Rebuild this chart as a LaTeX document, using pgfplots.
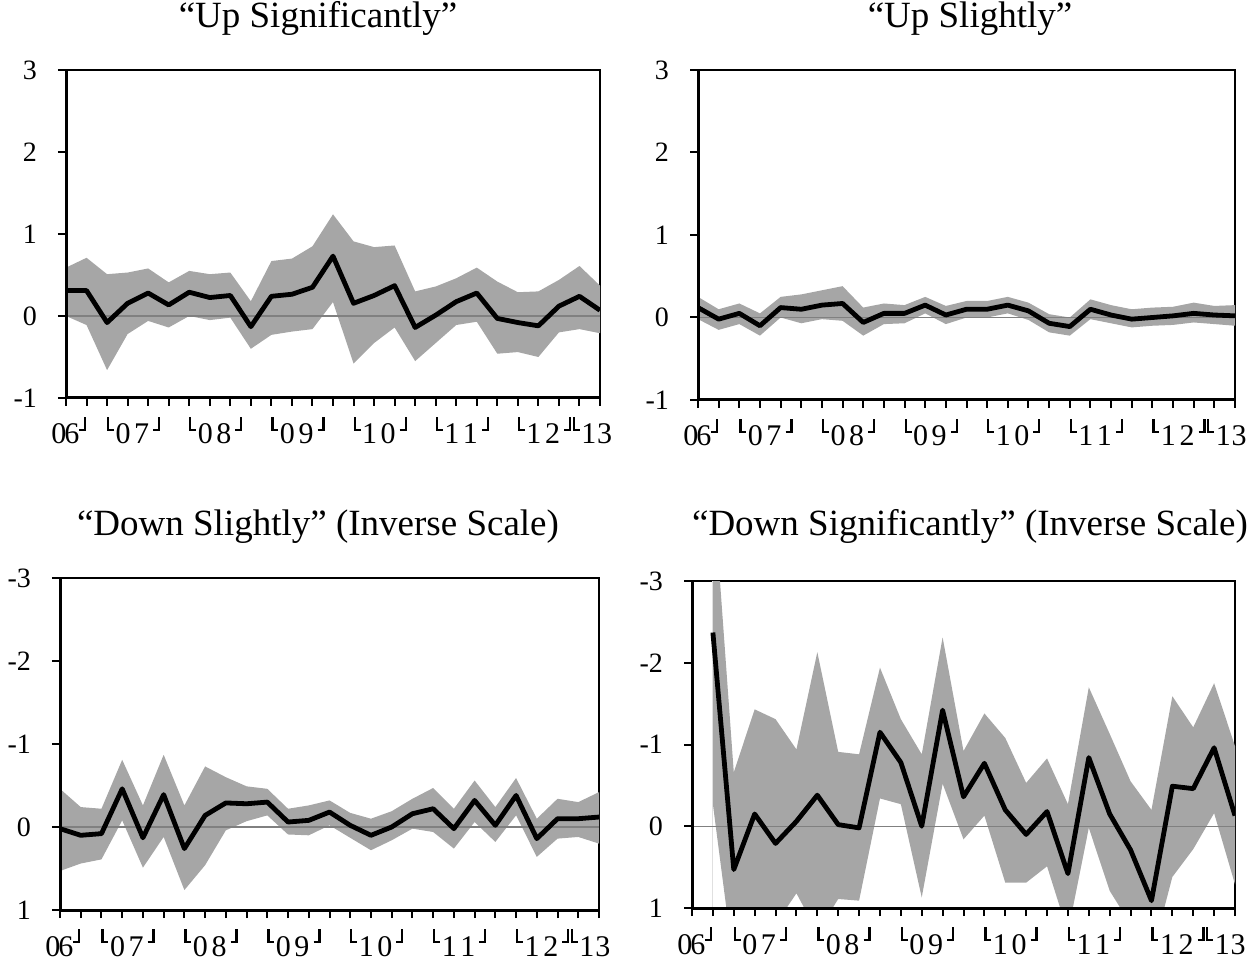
\documentclass[border=0pt]{standalone}
\usepackage{pgfplots}
\pgfplotsset{compat=1.18}
\usepgfplotslibrary{fillbetween}
\usepackage{pgfplotstable}
\usepackage{fontspec}
\setmainfont{Liberation Serif}

\definecolor{band}{RGB}{166,166,166}
\definecolor{zline}{RGB}{128,128,128}

% corner marks and year groups for the quarter axis
\newcommand{\Lb}{\raisebox{6.5pt}{\rule{1.1pt}{7pt}\rule{2.4pt}{1.1pt}}}
\newcommand{\Rb}{\raisebox{6.5pt}{\rule{2.4pt}{1.1pt}\rule{1.1pt}{7pt}}}
\newcommand{\grp}[2]{\makebox[0pt][l]{\Lb\kern0.8pt#1\kern1.8pt#2\kern2pt\Rb}}
\newcommand{\firstlab}{\makebox[0pt][l]{\kern-7.3pt0\kern-1pt6\kern-0.3pt\Rb}}
\newcommand{\lastlab}{\makebox[0pt][l]{\Lb\kern0.8pt1\kern1.8pt2\kern2pt\Rb\kern0.8pt\Lb\kern0.8pt1\kern0.4pt3}}

% x = quarter index (0 = 06Q3), m = estimate, lo/hi = band
\pgfplotstableread{
x m lo hi
0 0.31 0.00 0.59
1 0.31 -0.11 0.71
2 -0.08 -0.66 0.51
3 0.155 -0.22 0.53
4 0.28 -0.06 0.58
5 0.135 -0.14 0.41
6 0.29 0.00 0.55
7 0.225 -0.05 0.51
8 0.25 -0.02 0.53
9 -0.13 -0.40 0.18
10 0.24 -0.23 0.67
11 0.265 -0.19 0.70
12 0.35 -0.16 0.85
13 0.73 0.17 1.24
14 0.155 -0.58 0.91
15 0.25 -0.33 0.84
16 0.37 -0.14 0.86
17 -0.14 -0.55 0.30
18 0.01 -0.33 0.36
19 0.175 -0.11 0.46
20 0.28 -0.07 0.59
21 -0.03 -0.46 0.42
22 -0.08 -0.44 0.29
23 -0.12 -0.50 0.30
24 0.12 -0.20 0.44
25 0.24 -0.16 0.61
26 0.07 -0.21 0.37
}\upsig

\pgfplotstableread{
x m lo hi
0 0.12 -0.02 0.25
1 -0.02 -0.15 0.10
2 0.05 -0.08 0.17
3 -0.10 -0.22 0.05
4 0.12 0.00 0.25
5 0.10 -0.07 0.28
6 0.15 -0.02 0.33
7 0.17 -0.04 0.38
8 -0.06 -0.22 0.12
9 0.05 -0.08 0.17
10 0.05 -0.07 0.15
11 0.15 0.05 0.25
12 0.03 -0.08 0.14
13 0.10 0.00 0.20
14 0.10 0.00 0.20
15 0.15 0.05 0.25
16 0.08 -0.03 0.18
17 -0.07 -0.18 0.04
18 -0.11 -0.22 0.00
19 0.10 -0.02 0.22
20 0.03 -0.07 0.15
21 -0.02 -0.12 0.10
22 0.00 -0.10 0.12
23 0.02 -0.09 0.13
24 0.05 -0.06 0.18
25 0.03 -0.08 0.14
26 0.02 -0.10 0.15
}\upsli

\pgfplotstableread{
x m lo hi
0 0.02 -0.46 0.53
1 0.10 -0.24 0.44
2 0.08 -0.22 0.39
3 -0.46 -0.81 -0.08
4 0.13 -0.26 0.49
5 -0.39 -0.87 0.12
6 0.26 -0.26 0.76
7 -0.14 -0.73 0.46
8 -0.29 -0.60 0.04
9 -0.28 -0.49 -0.07
10 -0.30 -0.46 -0.14
11 -0.06 -0.22 0.09
12 -0.08 -0.26 0.10
13 -0.18 -0.32 -0.02
14 -0.02 -0.17 0.13
15 0.10 -0.10 0.28
16 0.00 -0.19 0.16
17 -0.16 -0.34 0.02
18 -0.22 -0.47 0.06
19 0.02 -0.22 0.26
20 -0.32 -0.56 -0.06
21 -0.02 -0.24 0.18
22 -0.38 -0.59 -0.14
23 0.14 -0.10 0.36
24 -0.10 -0.34 0.14
25 -0.10 -0.30 0.12
26 -0.12 -0.42 0.20
}\dnsli

\pgfplotstableread{
x m lo hi
1 -2.37 -4.2 -0.27
2 0.53 -0.66 1.7
3 -0.15 -1.43 1.3
4 0.21 -1.31 1.2
5 -0.06 -0.94 0.82
6 -0.38 -2.13 1.3
7 -0.02 -0.91 0.89
8 0.02 -0.88 0.91
9 -1.15 -1.94 -0.34
10 -0.78 -1.31 -0.27
11 0.00 -0.88 0.87
12 -1.42 -2.31 -0.52
13 -0.36 -0.92 0.16
14 -0.77 -1.38 -0.13
15 -0.20 -1.08 0.69
16 0.10 -0.53 0.69
17 -0.18 -0.83 0.49
18 0.58 -0.27 1.3
19 -0.84 -1.70 0.02
20 -0.15 -1.13 0.79
21 0.29 -0.55 1.2
22 0.91 -0.20 1.6
23 -0.49 -1.59 0.62
24 -0.46 -1.21 0.28
25 -0.96 -1.75 -0.16
26 -0.13 -0.98 0.71
}\dnsig

\pgfplotsset{
  panel/.style={
    scale only axis, anchor=south west,
    xmin=0, xmax=26,
    xtick={0,...,26},
    xticklabels={{\firstlab},{},{\grp{0}{7}},{},{},{},{\grp{0}{8}},{},{},{},
      {\grp{0}{9}},{},{},{},{\grp{1}{0}},{},{},{},{\grp{1}{1}},{},{},{},
      {\lastlab},{},{},{},{}},
    ytick={-3,...,3},
    tick align=outside, xtick pos=left, ytick pos=left,
    major tick length=4pt,
    every tick/.style={black, line width=1pt},
    axis line style={line width=0.8pt},
    yticklabel style={font=\fontsize{14}{14}\selectfont, xshift=-7pt},
    xticklabel style={font=\fontsize{15}{15}\selectfont, anchor=base, yshift=-19pt},
    /pgf/number format/assume math mode=true,
    no markers,
  },
  estline/.style={black, line width=2.4pt, line join=round},
  zeroln/.style={zline, line width=0.7pt},
}

\begin{document}
\begin{tikzpicture}
\tikzset{ttl/.style={anchor=base, font=\fontsize{18.5}{20}\selectfont}}
\node[ttl] at (159pt,-14pt) {“Up Significantly”};
\node[ttl] at (485pt,-14pt) {“Up Slightly”};
\node[ttl] at (159pt,-268pt) {“Down Slightly” (Inverse Scale)};
\node[ttl] at (485pt,-268pt) {“Down Significantly” (Inverse Scale)};

\begin{axis}[panel, name=a1, at={(33pt,-199pt)}, width=267pt, height=164pt, ymin=-1, ymax=3]
  \addplot[name path=hi, draw=none] table[x=x, y=hi] {\upsig};
  \addplot[name path=lo, draw=none] table[x=x, y=lo] {\upsig};
  \addplot[band] fill between[of=hi and lo];
  \addplot[zeroln] coordinates {(0,0) (26,0)};
  \addplot[estline] table[x=x, y=m] {\upsig};
\end{axis}

\begin{axis}[panel, name=a2, at={(349pt,-200pt)}, width=268.5pt, height=165pt, ymin=-1, ymax=3]
  \addplot[name path=hi, draw=none] table[x=x, y=hi] {\upsli};
  \addplot[name path=lo, draw=none] table[x=x, y=lo] {\upsli};
  \addplot[band] fill between[of=hi and lo];
  \addplot[zeroln] coordinates {(0,0) (26,0)};
  \addplot[estline] table[x=x, y=m] {\upsli};
\end{axis}

\begin{axis}[panel, name=a3, at={(30pt,-455pt)}, width=269.5pt, height=166pt, ymin=-3, ymax=1, y dir=reverse]
  \addplot[name path=hi, draw=none] table[x=x, y=hi] {\dnsli};
  \addplot[name path=lo, draw=none] table[x=x, y=lo] {\dnsli};
  \addplot[band] fill between[of=hi and lo];
  \addplot[zeroln] coordinates {(0,0) (26,0)};
  \addplot[estline] table[x=x, y=m] {\dnsli};
\end{axis}

\begin{axis}[panel, name=a4, at={(346pt,-454pt)}, width=271.5pt, height=163.5pt, ymin=-3, ymax=1, y dir=reverse]
  \addplot[name path=hi, draw=none] table[x=x, y=hi] {\dnsig};
  \addplot[name path=lo, draw=none] table[x=x, y=lo] {\dnsig};
  \addplot[band] fill between[of=hi and lo];
  \addplot[black!12, line width=0.4pt] coordinates {(1,-3) (1,1)};
  \addplot[zeroln] coordinates {(0,0) (26,0)};
  \addplot[estline] table[x=x, y=m] {\dnsig};
\end{axis}

% heavier left and bottom axis lines
\foreach \a in {a1,a2,a3,a4}
  \draw[line width=1.5pt] (\a.north west) -- (\a.south west) -- (\a.south east);

\pgfresetboundingbox
\path[use as bounding box] (0,0) rectangle (629pt,-483.5pt);
\end{tikzpicture}
\end{document}
